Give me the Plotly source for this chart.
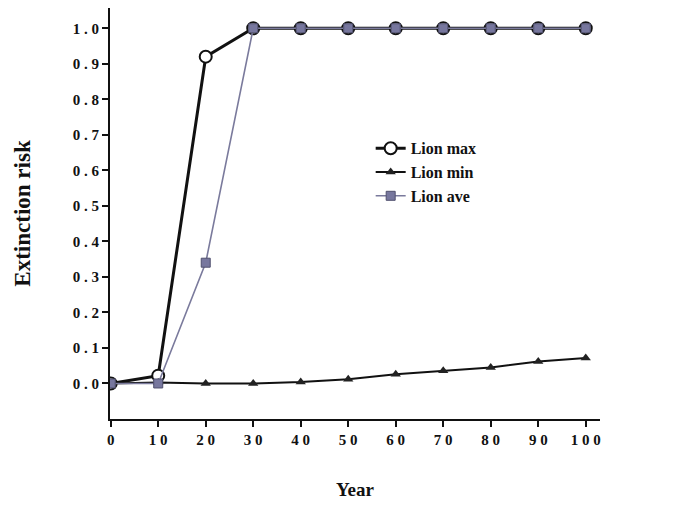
import plotly.graph_objects as go

years = [0, 10, 20, 30, 40, 50, 60, 70, 80, 90, 100]
lion_max = [0.0, 0.022, 0.92, 1.0, 1.0, 1.0, 1.0, 1.0, 1.0, 1.0, 1.0]
lion_min = [0.0, 0.003, 0.0, 0.0, 0.004, 0.012, 0.026, 0.036, 0.045, 0.062, 0.072]
lion_ave = [0.0, 0.0, 0.34, 1.0, 1.0, 1.0, 1.0, 1.0, 1.0, 1.0, 1.0]
y_ticks = [0.0, 0.1, 0.2, 0.3, 0.4, 0.5, 0.6, 0.7, 0.8, 0.9, 1.0]

font_family = "Liberation Serif, Times New Roman, serif"


def spaced(s):
    return "<b>" + " ".join(list(s)) + "</b>"


fig = go.Figure()
fig.add_trace(go.Scatter(
    x=years, y=lion_max, name="<b>Lion max</b>", mode="lines+markers",
    line=dict(color="#111111", width=3),
    marker=dict(symbol="circle", size=12, color="white",
                line=dict(color="#111111", width=2)),
))
fig.add_trace(go.Scatter(
    x=years, y=lion_min, name="<b>Lion min</b>", mode="lines+markers",
    line=dict(color="#111111", width=2),
    marker=dict(symbol="triangle-up", size=9, color="#222222"),
))
fig.add_trace(go.Scatter(
    x=years, y=lion_ave, name="<b>Lion ave</b>", mode="lines+markers",
    line=dict(color="#7a7a9c", width=1.6),
    marker=dict(symbol="square", size=9, color="#77779e",
                line=dict(color="#50506e", width=1)),
))

fig.update_layout(
    width=691, height=497,
    margin=dict(l=102, r=99, t=0, b=86),
    paper_bgcolor="white", plot_bgcolor="white",
    font=dict(family=font_family, color="#111111"),
    showlegend=True,
    legend=dict(
        x=0.532, y=0.70, xanchor="left", yanchor="top",
        bgcolor="rgba(0,0,0,0)", font=dict(size=16, family=font_family),
        tracegroupgap=0,
    ),
    xaxis=dict(
        range=[-0.15, 103], tickmode="array", tickvals=years,
        ticktext=[spaced(str(v)) for v in years],
        showline=True, linecolor="#111111", linewidth=2,
        ticks="outside", ticklen=6, tickwidth=2, tickcolor="#111111",
        showgrid=False, zeroline=False,
        tickfont=dict(size=15, family=font_family),
        title=dict(text="<b>Year</b>", font=dict(size=19, family=font_family),
                   standoff=36),
    ),
    yaxis=dict(
        range=[-0.1, 1.057], tickmode="array", tickvals=y_ticks,
        ticktext=[spaced(f"{v:.1f}") for v in y_ticks],
        showline=True, linecolor="#111111", linewidth=2,
        ticks="outside", ticklen=6, tickwidth=2, tickcolor="#111111",
        showgrid=False, zeroline=False,
        tickfont=dict(size=15, family=font_family),
        title=dict(text="<b>Extinction risk</b>", font=dict(size=23, family=font_family),
                   standoff=36),
    ),
)

fig.write_html("out.html")
